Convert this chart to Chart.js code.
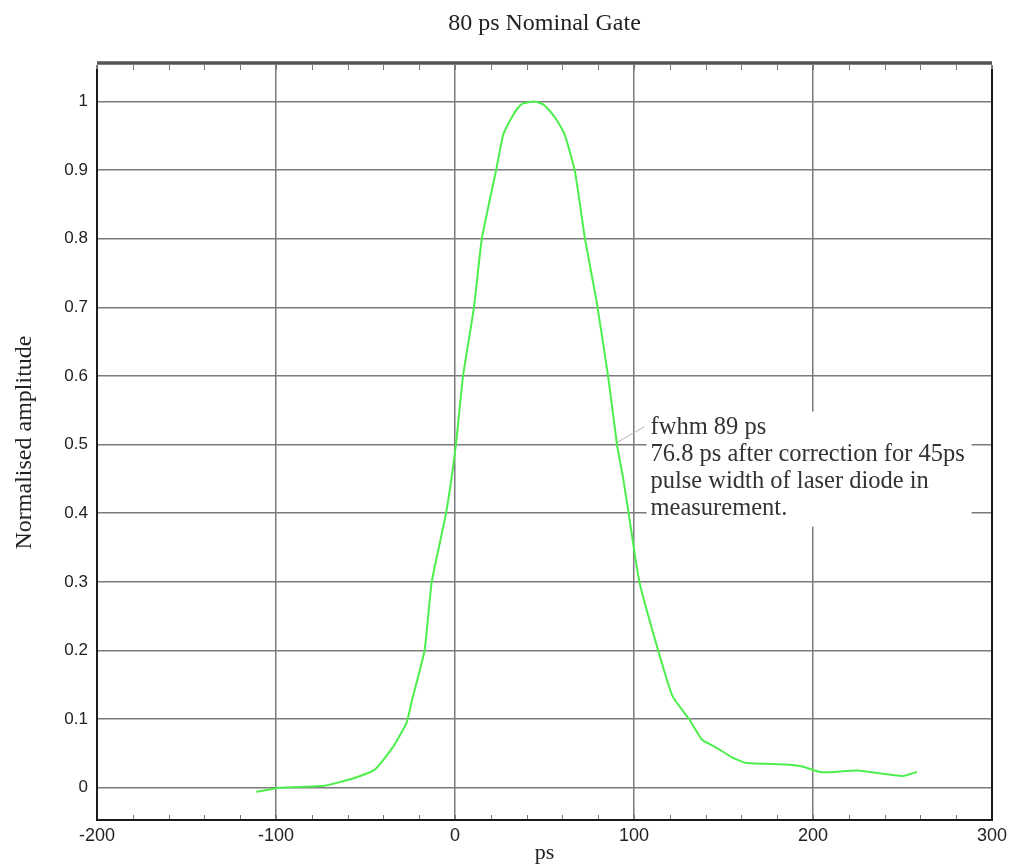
<!DOCTYPE html>
<html>
<head>
<meta charset="utf-8">
<script src="https://cdn.jsdelivr.net/npm/chart.js@4"></script>
<style>
  html, body { margin: 0; padding: 0; background: #fff; }
  #wrap { width: 1013px; height: 866px; }
</style>
</head>
<body>
<div id="wrap"><canvas id="gateChart" width="1013" height="866"></canvas></div>
<script>
// ============ Data ============

const timePs = [-111, -98, -73, -59, -45, -35, -27, -24, -17, -13, -5, 0.5, 4.5, 10.6, 15, 23, 27, 32, 35, 38, 44, 49, 53, 57, 61.5, 67, 72.6, 79, 85.5, 90.5, 94, 97, 103, 113.5, 121.6, 131, 138, 145, 155, 163, 185, 194, 204, 211, 225, 250, 258];
const amplitude = [-0.006, 0, 0.003, 0.012, 0.026, 0.058, 0.095, 0.128, 0.2, 0.3, 0.4, 0.5, 0.6, 0.7, 0.8, 0.9, 0.952, 0.978, 0.99, 0.997, 1.0, 0.996, 0.986, 0.972, 0.95, 0.898, 0.8, 0.71, 0.6, 0.5, 0.45, 0.4, 0.3, 0.2, 0.133, 0.099, 0.07, 0.06, 0.044, 0.036, 0.034, 0.031, 0.023, 0.023, 0.025, 0.017, 0.023];

const xTicks = [-200, -100, 0, 100, 200, 300];
const yTicks = [0, 0.1, 0.2, 0.3, 0.4, 0.5, 0.6, 0.7, 0.8, 0.9, 1];
const yTickLabels = ['0', '0.1', '0.2', '0.3', '0.4', '0.5', '0.6', '0.7', '0.8', '0.9', '1'];

const chartTitle = '80 ps Nominal Gate';
const noteLines = [
    'fwhm 89 ps',
    '76.8 ps after correction for 45ps',
    'pulse width of laser diode in',
    'measurement.'
];
// where the note sits and what it points at (data units)
const noteAnchor = { x: 107, y: 0.548 };
const notePointer = { x: 90.5, y: 0.5 };

// ============ Plugins ============

const GRID = '#7a7a7a';

const notePlugin = {
    id: 'note',
    beforeDatasetsDraw(chart) {
        const { ctx, scales: { x, y } } = chart;
        const left = x.getPixelForValue(noteAnchor.x);
        const top = y.getPixelForValue(noteAnchor.y);
        ctx.save();
        ctx.fillStyle = '#fff';
        ctx.fillRect(left, top, 325, 115);
        // leader line
        ctx.strokeStyle = '#b5b5b5';
        ctx.lineWidth = 1;
        ctx.beginPath();
        ctx.moveTo(x.getPixelForValue(notePointer.x), y.getPixelForValue(notePointer.y) - 2);
        ctx.lineTo(left - 2, top + 15);
        ctx.stroke();
        ctx.fillStyle = '#333';
        ctx.font = '24.5px "Liberation Serif", serif';
        ctx.textBaseline = 'middle';
        noteLines.forEach((line, i) => {
            ctx.fillText(line, left + 4, top + 16 + i * 27);
        });
        ctx.restore();
    }
};

const framePlugin = {
    id: 'frame',
    afterDraw(chart) {
        const { ctx, chartArea: a, scales: { x } } = chart;
        ctx.save();
        // minor ticks along top & bottom
        ctx.strokeStyle = '#777';
        ctx.lineWidth = 1;
        ctx.beginPath();
        for (let v = -200; v <= 300; v += 20) {
            const px = Math.round(x.getPixelForValue(v)) + 0.5;
            ctx.moveTo(px, a.bottom);
            ctx.lineTo(px, a.bottom - 5);
            ctx.moveTo(px, a.top);
            ctx.lineTo(px, a.top + 5);
        }
        ctx.stroke();
        // frame
        ctx.strokeStyle = '#1a1a1a';
        ctx.lineWidth = 2;
        ctx.beginPath();
        ctx.moveTo(a.left, a.top + 4);
        ctx.lineTo(a.left, a.bottom);
        ctx.lineTo(a.right, a.bottom);
        ctx.lineTo(a.right, a.top + 4);
        ctx.stroke();
        ctx.strokeStyle = '#555';
        ctx.lineWidth = 3.5;
        ctx.beginPath();
        ctx.moveTo(a.left, a.top - 2);
        ctx.lineTo(a.right, a.top - 2);
        ctx.stroke();
        // title
        ctx.fillStyle = '#222';
        ctx.font = '24px "Liberation Serif", serif';
        ctx.textAlign = 'center';
        ctx.textBaseline = 'middle';
        ctx.fillText(chartTitle, (a.left + a.right) / 2, 24);
        ctx.restore();
    }
};

// ============ Chart ============

const ctx = document.getElementById('gateChart').getContext('2d');

new Chart(ctx, {
    type: 'scatter',
    data: {
        datasets: [{
            data: timePs.map((t, i) => ({ x: t, y: amplitude[i] })),
            showLine: true,
            borderColor: '#4cef4c',
            borderWidth: 2,
            pointRadius: 0,
            tension: 0.15
        }]
    },
    options: {
        responsive: false,
        animation: false,
        layout: { padding: { top: 65, right: 21, left: 0, bottom: 0 } },
        plugins: {
            legend: { display: false },
            tooltip: { enabled: false }
        },
        scales: {
            x: {
                type: 'linear',
                min: -200,
                max: 300,
                afterBuildTicks: (s) => { s.ticks = xTicks.map(v => ({ value: v })); },
                afterFit: (s) => { s.height = 46; },
                grid: { color: GRID, lineWidth: 1.5, drawTicks: false },
                border: { display: false },
                ticks: {
                    color: '#222',
                    padding: 5,
                    maxRotation: 0,
                    autoSkip: false,
                    font: { family: '"Liberation Sans", Arial, sans-serif', size: 18 },
                    callback: (v) => String(v)
                },
                title: {
                    display: true,
                    text: 'ps',
                    color: '#222',
                    padding: { top: 0, bottom: 0 },
                    font: { family: '"Liberation Serif", serif', size: 22 }
                }
            },
            y: {
                type: 'linear',
                min: -0.047,
                max: 1.053,
                afterBuildTicks: (s) => { s.ticks = yTicks.map(v => ({ value: v })); },
                afterFit: (s) => { s.width = 97; },
                grid: { color: GRID, lineWidth: 1.5, drawTicks: false },
                border: { display: false },
                ticks: {
                    color: '#222',
                    padding: 9,
                    autoSkip: false,
                    font: { family: '"Liberation Sans", Arial, sans-serif', size: 17 },
                    callback: (v) => yTickLabels[yTicks.indexOf(v)] ?? ''
                },
                title: {
                    display: true,
                    text: 'Normalised amplitude',
                    color: '#222',
                    padding: { top: 10, bottom: 0 },
                    font: { family: '"Liberation Serif", serif', size: 24 }
                }
            }
        }
    },
    plugins: [notePlugin, framePlugin]
});
</script>
</body>
</html>
